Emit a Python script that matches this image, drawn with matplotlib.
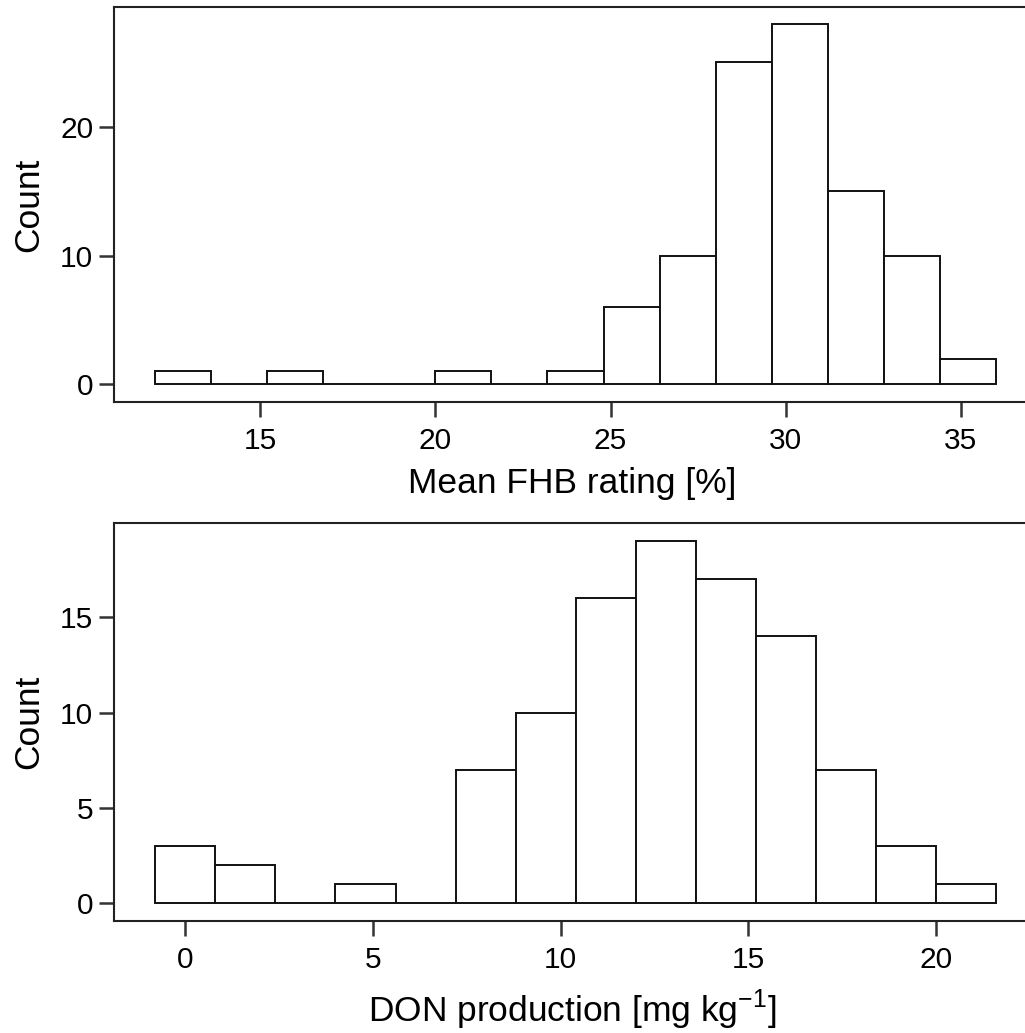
import matplotlib
matplotlib.use("Agg")
import matplotlib.pyplot as plt
import numpy as np

plt.rcParams["font.family"] = ["Liberation Sans", "DejaVu Sans"]
plt.rcParams["mathtext.fontset"] = "custom"
plt.rcParams["mathtext.rm"] = "Liberation Sans"

# mean FHB rating histogram
fhb_edges = [12.0, 13.6, 15.2, 16.8, 18.4, 20.0, 21.6, 23.2, 24.8,
             26.4, 28.0, 29.6, 31.2, 32.8, 34.4, 36.0]
fhb_counts = [1, 0, 1, 0, 0, 1, 0, 1, 6, 10, 25, 28, 15, 10, 2]

# DON production histogram
don_edges = [-0.8, 0.8, 2.4, 4.0, 5.6, 7.2, 8.8, 10.4, 12.0,
             13.6, 15.2, 16.8, 18.4, 20.0, 21.6]
don_counts = [3, 2, 0, 1, 0, 7, 10, 16, 19, 17, 14, 7, 3, 1]

W, H = 1025, 1033
fig = plt.figure(figsize=(W / 100, H / 100), dpi=100)

def px_axes(x0, y0, x1, y1):
    # pixel box (top-left origin) -> figure fraction
    return fig.add_axes([x0 / W, 1 - y1 / H, (x1 - x0) / W, (y1 - y0) / H])

ax1 = px_axes(114, 7, 1031, 401.7)
ax2 = px_axes(114, 523.3, 1031, 921)

def hist(ax, edges, counts):
    edges = np.array(edges)
    ax.bar(edges[:-1], counts, width=np.diff(edges), align="edge",
           facecolor="white", edgecolor="#111111", linewidth=1.4)
    for s in ax.spines.values():
        s.set_linewidth(1.5)
        s.set_color("#222222")
    ax.tick_params(direction="out", length=11, width=1.8, color="#333333",
                   labelsize=21.5, pad=4)
    ax.tick_params(axis="x", pad=7)
    ax.set_ylabel("Count", fontsize=25.5)

hist(ax1, fhb_edges, fhb_counts)
ax1.set_xlim(10.83, 37.0)
ax1.set_ylim(-1.35, 29.3)
ax1.set_xticks([15, 20, 25, 30, 35])
ax1.set_yticks([0, 10, 20])
ax1.set_xlabel("Mean FHB rating [%]", fontsize=25.5)
ax1.xaxis.set_label_coords(0.5, -0.165)
ax1.yaxis.set_label_coords(-0.075, 0.5)

hist(ax2, don_edges, don_counts)
ax2.set_xlim(-1.9, 22.53)
ax2.set_ylim(-0.93, 19.93)
ax2.set_xticks([0, 5, 10, 15, 20])
ax2.set_yticks([0, 5, 10, 15])
ax2.set_xlabel(r"DON production [mg kg$^{-1}$]", fontsize=25.5)
ax2.xaxis.set_label_coords(0.5, -0.168)
ax2.yaxis.set_label_coords(-0.075, 0.5)

fig.savefig("out.png", dpi=100)
